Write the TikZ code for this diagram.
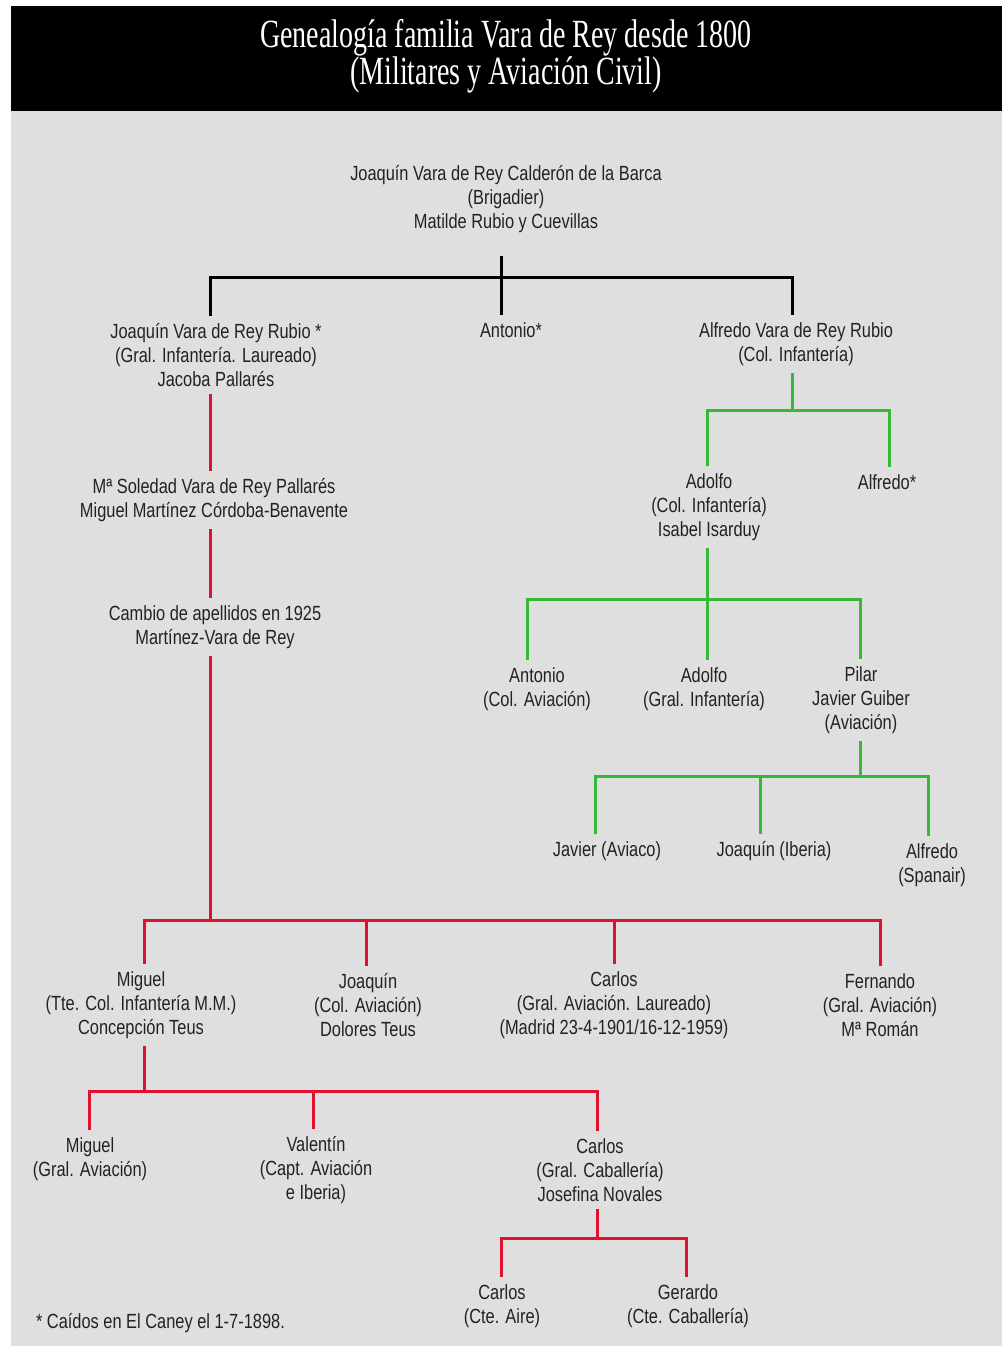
\documentclass[tikz,border=0pt]{standalone}
\usepackage{fontspec}
\setmainfont{Liberation Sans}[FakeStretch=0.8]
\newfontfamily\titlefont{Liberation Serif}[FakeStretch=0.70]
\usepackage{xcolor}
\usetikzlibrary{positioning, calc}

\definecolor{panelgray}{HTML}{DFDFDF}
\definecolor{linered}{HTML}{E0102F}
\definecolor{linegreen}{HTML}{36BA36}
\definecolor{txtgray}{HTML}{222222}

\tikzset{
  person/.style={align=center, inner sep=2pt, outer sep=5pt, text=txtgray, font=\fontsize{20.5}{24}\selectfont},
  blackline/.style={draw=black, line width=3pt},
  redline/.style={draw=linered, line width=3pt},
  greenline/.style={draw=linegreen, line width=3pt},
}

\begin{document}
\begin{tikzpicture}[x=1pt, y=-1pt]
      \useasboundingbox (0,0) rectangle (1002,1346);
      \fill[white] (0,0) rectangle (1002,1346);
      \fill[panelgray] (11,111) rectangle (1002,1346);
      \fill[black] (11,6) rectangle (1002,111);

      \node[text=white, align=center, font=\titlefont\fontsize{40}{37}\selectfont] (title) at (506,56)
        {Genealogía familia Vara de Rey desde 1800\\(Militares y Aviación Civil)};

      % generations
      \node[person] (root) at (506,199) {Joaquín Vara de Rey Calderón de la Barca\\(Brigadier)\\Matilde Rubio y Cuevillas};

      \node[person] (jrubio) at (216,355) {Joaquín Vara de Rey Rubio *\\(Gral. Infantería. Laureado)\\Jacoba Pallarés};
      \node[person] (antonio) at (511,330) {Antonio*};
      \node[person] (alfredo) at (796,344) {Alfredo Vara de Rey Rubio\\(Col. Infantería)};

      \node[person] (adolfo) at (709,507) {Adolfo\\(Col. Infantería)\\Isabel Isarduy};
      \node[person] (alfredoB) at (887,482) {Alfredo*};

      \node[person] (antonioB) at (537,689) {Antonio\\(Col. Aviación)};
      \node[person] (adolfoB) at (704,689) {Adolfo\\(Gral. Infantería)};
      \node[person] (pilar) at (861,700) {Pilar\\Javier Guiber\\(Aviación)};

      \node[person] (javier) at (607,851) {Javier (Aviaco)};
      \node[person] (joaquinB) at (774,851) {Joaquín (Iberia)};
      \node[person] (alfredoC) at (932,865) {Alfredo\\(Spanair)};

      \node[person] (soledad) at (214,500) {Mª Soledad Vara de Rey Pallarés\\Miguel Martínez Córdoba-Benavente};
      \node[person] (cambio) at (215,627) {Cambio de apellidos en 1925\\Martínez-Vara de Rey};

      \node[person] (miguel) at (141,1005) {Miguel\\(Tte. Col. Infantería M.M.)\\Concepción Teus};
      \node[person] (joaquinC) at (368,1005) {Joaquín\\(Col. Aviación)\\Dolores Teus};
      \node[person] (carlos) at (614,1005) {Carlos\\(Gral. Aviación. Laureado)\\(Madrid 23-4-1901/16-12-1959)};
      \node[person] (fernando) at (880,1005) {Fernando\\(Gral. Aviación)\\Mª Román};

      \node[person] (miguelB) at (90,1159) {Miguel\\(Gral. Aviación)};
      \node[person] (valentin) at (316,1170) {Valentín\\(Capt. Aviación\\e Iberia)};
      \node[person] (carlosB) at (600,1170) {Carlos\\(Gral. Caballería)\\Josefina Novales};

      \node[person] (carlosC) at (502,1306) {Carlos\\(Cte. Aire)};
      \node[person] (gerardo) at (688,1306) {Gerardo\\(Cte. Caballería)};

      \node[person, anchor=west, outer sep=0pt] (note) at (34,1323) {* Caídos en El Caney el 1-7-1898.};

      % black branch
      \coordinate (b0) at (501,277);
      \draw[blackline] ([shift={(-5pt,-16pt)}]root.south) -- ([xshift=-10pt]antonio.north);
      \draw[blackline] ([xshift=-6pt]jrubio.north) |- (b0) -| ([xshift=-4pt]alfredo.north);

      % green branch
      \coordinate (g1) at (792,410);
      \draw[greenline] ([xshift=-4pt]alfredo.south) -- (g1);
      \draw[greenline] ([xshift=-2pt]adolfo.north) |- (g1) -| ([xshift=2pt]alfredoB.north);

      \coordinate (g2) at (707,599);
      \draw[greenline] ([xshift=-2pt]adolfo.south) -- ([xshift=3pt]adolfoB.north);
      \draw[greenline] ([xshift=-10pt]antonioB.north) |- (g2) -| ([xshift=-1pt]pilar.north);

      \coordinate (g3) at (860,776);
      \draw[greenline] ([xshift=-1pt]pilar.south) -- (g3);
      \draw[greenline] ([xshift=-12pt]javier.north) |- (g3) -| ([xshift=-4pt]alfredoC.north);
      \draw[greenline] ([xshift=-14pt]joaquinB.north) -- ([xshift=-14pt]joaquinB.north |- g3);

      % red branch
      \coordinate (r1) at (210,920);
      \draw[redline] ([xshift=-6pt]jrubio.south) -- ([xshift=-4pt]soledad.north);
      \draw[redline] ([xshift=-4pt]soledad.south) -- ([xshift=-5pt]cambio.north);
      \draw[redline] ([xshift=-5pt]cambio.south) -- (r1);
      \draw[redline] ([xshift=3pt]miguel.north) |- (r1) -| (fernando.north);
      \draw[redline] ([xshift=-2pt]joaquinC.north) -- ([xshift=-2pt]joaquinC.north |- r1);
      \draw[redline] (carlos.north) -- (carlos.north |- r1);

      \coordinate (r2) at (144,1091);
      \draw[redline] ([xshift=3pt]miguel.south) -- (r2);
      \draw[redline] ([xshift=-1pt]miguelB.north) |- (r2) -| ([xshift=-3pt]carlosB.north);
      \draw[redline] ([xshift=-3pt]valentin.north) -- ([xshift=-3pt]valentin.north |- r2);

      \coordinate (r3) at (597,1238);
      \draw[redline] ([xshift=-3pt]carlosB.south) -- (r3);
      \draw[redline] ([xshift=-1pt]carlosC.north) |- (r3) -| ([xshift=-2pt]gerardo.north);
    \end{tikzpicture}
\end{document}
